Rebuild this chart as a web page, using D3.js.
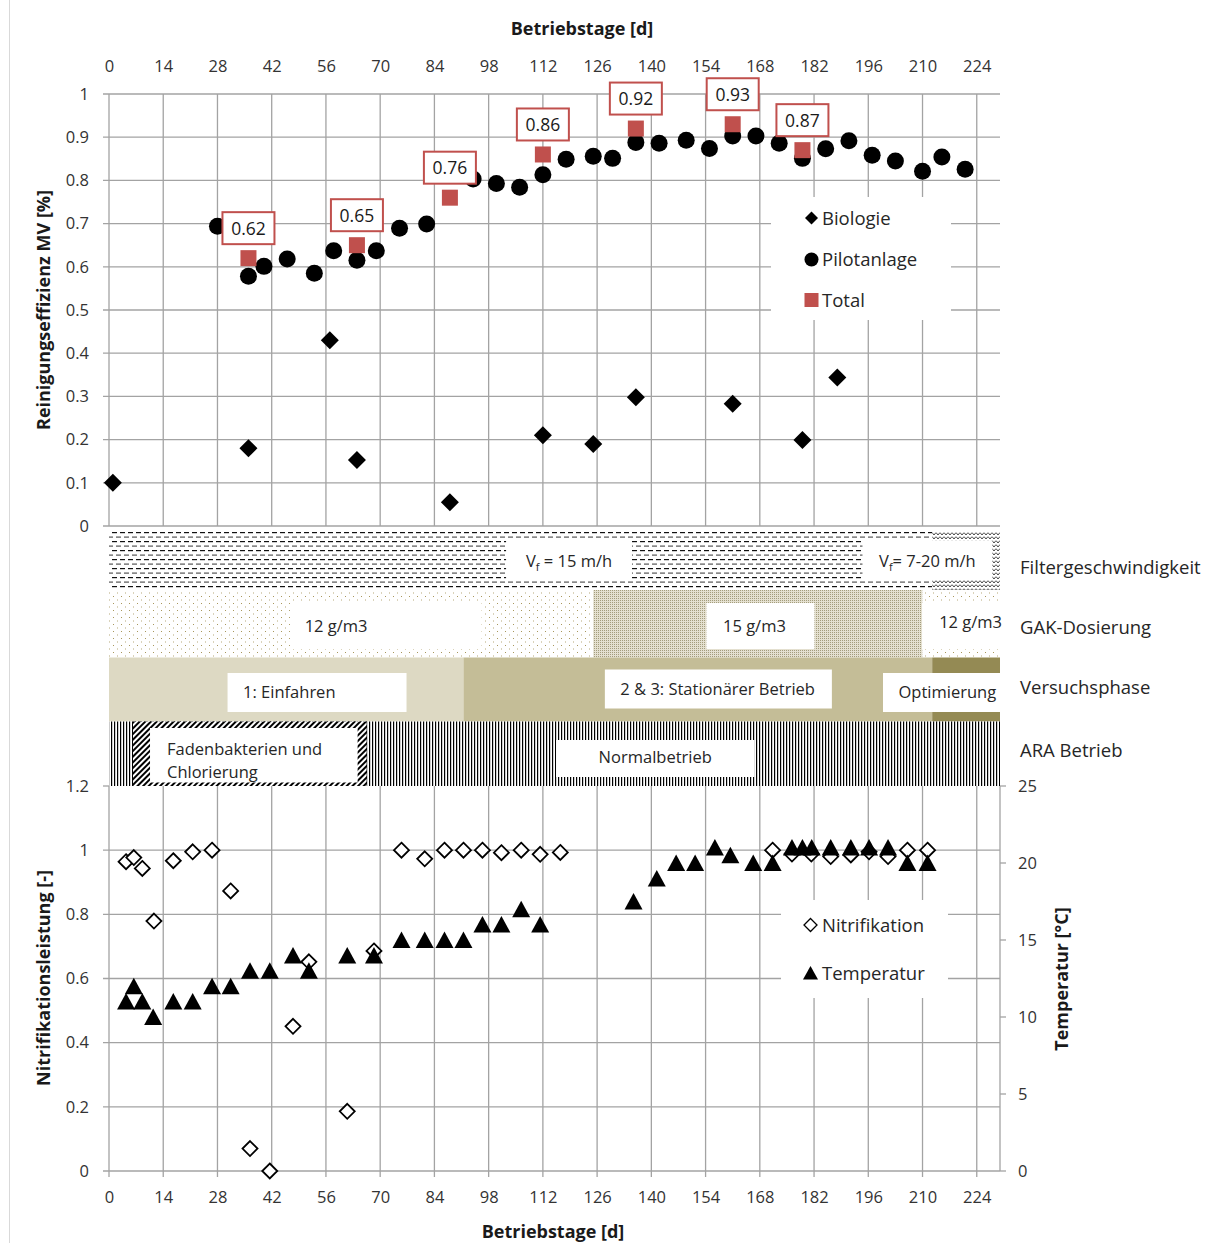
<!DOCTYPE html>
<html><head><meta charset="utf-8">
<script src="https://cdn.jsdelivr.net/npm/d3@7"></script>
<style>body{margin:0;background:#fff}text{font-family:"Open Sans","Noto Sans",sans-serif}</style>
</head><body><svg id="c" width="1213" height="1243"></svg>
<script>
// ---------- DATA ----------
const xTicks = [0,14,28,42,56,70,84,98,112,126,140,154,168,182,196,210,224];
const yTopTicks = [0,0.1,0.2,0.3,0.4,0.5,0.6,0.7,0.8,0.9,1];
const yBotTicks = [0,0.2,0.4,0.6,0.8,1,1.2];
const tempTicks = [0,5,10,15,20,25];

const bioDays = [1,36,57,64,88,112,125,136,161,179,188];
const bioVals = [0.10,0.18,0.43,0.153,0.055,0.21,0.19,0.298,0.283,0.199,0.344];

const pilotDays = [28,36,40,46,53,58,64,69,75,82,94,100,106,112,118,125,130,136,142,149,155,161,167,173,179,185,191,197,203,210,215,221];
const pilotVals = [0.694,0.578,0.601,0.618,0.585,0.637,0.615,0.637,0.689,0.699,0.803,0.793,0.784,0.813,0.849,0.856,0.851,0.888,0.886,0.893,0.874,0.903,0.903,0.886,0.851,0.873,0.892,0.858,0.845,0.821,0.854,0.826];

const totalDays = [36,64,88,112,136,161,179];
const totalVals = [0.62,0.65,0.76,0.86,0.92,0.93,0.87];

const nitriDays = [4.4,6.4,8.6,11.6,16.6,21.6,26.6,31.4,36.4,41.5,47.5,51.6,61.5,68.4,75.5,81.5,86.6,91.5,96.4,101.3,106.4,111.3,116.5,171.3,176.3,181.3,186.3,191.5,196.2,201.1,206.1,211.3];
const nitriVals = [0.964,0.977,0.943,0.779,0.967,0.995,1.0,0.873,0.07,0.0,0.451,0.652,0.186,0.686,1.0,0.973,1.0,1.0,1.0,0.992,1.0,0.987,0.993,1.0,0.988,0.988,0.98,0.985,0.995,0.98,1.0,1.0];

const tempDays = [4.4,6.4,8.6,11.4,16.6,21.6,26.6,31.4,36.4,41.5,47.5,51.6,61.5,68.4,75.5,81.5,86.6,91.5,96.4,101.3,106.4,111.3,135.4,141.4,146.4,151.3,156.4,160.4,166.3,171.3,176.3,179,181.4,186.3,191.5,196.2,201.1,206.1,211.3];
const tempVals = [11,12,11,10,11,11,12,12,13,13,14,13,14,14,15,15,15,15,16,16,17,16,17.5,19,20,20,21,20.5,20,20,21,21,21,21,21,21,21,20,20];

// band segments (days)
const filterSegs = [{from:0,to:212.5,fill:"hdash"},{from:212.5,to:230,fill:"zigzag"}];
const filterLabels = [{from:102.5,to:135,val:" = 15 m/h"},{from:194.5,to:228,val:"= 7-20 m/h"}];
const gakSegs = [{from:0,to:125,fill:"sdots"},{from:125,to:210,fill:"ddots"},{from:210,to:230,fill:"sdots"}];
const gakLabels = [{from:46.7,to:96.2,text:"12 g/m3",tx:50.5},{from:154.2,to:182.1,text:"15 g/m3",tx:158.5},{from:209.9,to:230,text:"12 g/m3",tx:214.3}];
const phaseSegs = [{from:0,to:91.5,fill:"#ddd9c3"},{from:91.5,to:212.5,fill:"#c4bd97"},{from:212.5,to:230,fill:"#948a54"}];
const phaseLabels = [{from:30.6,to:76.8,text:"1: Einfahren",dy:0},{from:128,to:186.6,text:"2 & 3: Stationärer Betrieb",dy:-3.5},{from:199.8,to:230,text:"Optimierung",dy:0}];
const araHatch = {from:6.2,to:66.5};
const araLabel = {from:115.4,to:166.6,text:"Normalbetrieb"};
const bandNames = ["Filtergeschwindigkeit","GAK-Dosierung","Versuchsphase","ARA Betrieb"];

// ---------- SCALES ----------
const x = d3.scaleLinear([0,230],[109,1000]);
const yTop = d3.scaleLinear([0,1],[526,94]);
const yBot = d3.scaleLinear([0,1.2],[1171,786]);
const yTemp = d3.scaleLinear([0,25],[1171,786]);

const FONT = '"Open Sans","Noto Sans",sans-serif';
const gridC = "#a3a3a3", tickC = "#333", red = "#c0504d", txtC = "#262626";
const svg = d3.select("#c");
svg.append("rect").attr("width",1213).attr("height",1243).attr("fill","#fff");
svg.append("line").attr("x1",9.5).attr("x2",9.5).attr("y1",0).attr("y2",1243).attr("stroke","#d9d9d9");

// ---------- PATTERNS ----------
const defs = svg.append("defs");
function pat(id,w,h,tr){const p=defs.append("pattern").attr("id",id).attr("patternUnits","userSpaceOnUse").attr("width",w).attr("height",h);if(tr)p.attr("patternTransform",tr);return p;}
let p = pat("hdash",8,9); p.append("rect").attr("width",8).attr("height",9).attr("fill","#fff");
p.append("rect").attr("x",0).attr("y",1).attr("width",5).attr("height",1.2).attr("fill","#111");
p.append("rect").attr("x",4).attr("y",5.5).attr("width",4).attr("height",1.2).attr("fill","#555");
p.append("rect").attr("x",0).attr("y",5.5).attr("width",1).attr("height",1.2).attr("fill","#555");
p = pat("zigzag",4,4); p.append("rect").attr("width",4).attr("height",4).attr("fill","#fff");
p.append("path").attr("d","M0,0.5L2,3L4,0.5").attr("fill","none").attr("stroke","#333").attr("stroke-width",0.9);
p = pat("sdots",8,7); p.append("rect").attr("width",8).attr("height",7).attr("fill","#fff");
p.append("rect").attr("x",1).attr("y",1).attr("width",1).attr("height",1).attr("fill","#a8975c");
p.append("rect").attr("x",5).attr("y",4.5).attr("width",1).attr("height",1).attr("fill","#b5a878");
p = pat("ddots",2,2); p.append("rect").attr("width",2).attr("height",2).attr("fill","#e4e0d0");
p.append("rect").attr("width",1).attr("height",1).attr("fill","#a39c7c");
p = pat("vlines",3,4); p.append("rect").attr("width",3).attr("height",4).attr("fill","#fff");
p.append("rect").attr("width",1.2).attr("height",4).attr("fill","#000");
p = pat("diag",4,4,"rotate(45)"); p.append("rect").attr("width",4).attr("height",4).attr("fill","#fff");
p.append("rect").attr("width",2).attr("height",4).attr("fill","#000");

// ---------- TOP CHART ----------
const gT = svg.append("g");
gT.selectAll("line.h").data(yTopTicks).join("line").attr("class","h")
  .attr("x1",x(0)-6).attr("x2",x(230)).attr("y1",d=>yTop(d)).attr("y2",d=>yTop(d))
  .attr("stroke",gridC).attr("stroke-width",1.3);
gT.selectAll("line.v").data(xTicks).join("line").attr("class","v")
  .attr("x1",d=>x(d)).attr("x2",d=>x(d)).attr("y1",yTop(1)).attr("y2",yTop(0))
  .attr("stroke",gridC).attr("stroke-width",1.3);

function styleAxis(g){g.select(".domain").remove();g.selectAll("line").remove();
  g.selectAll("text").attr("font-size",16.5).attr("fill",tickC).style("font-family",FONT);}
svg.append("g").attr("transform",`translate(${x(0)},0)`)
  .call(d3.axisLeft(yTop).tickValues(yTopTicks).tickFormat(d=>String(d)).tickSize(0).tickPadding(20)).call(styleAxis);
svg.append("g").attr("transform",`translate(0,${yTop(1)})`)
  .call(d3.axisTop(x).tickValues(xTicks).tickFormat(d=>String(d)).tickSize(0).tickPadding(22)).call(styleAxis);

const diamond = a => `M0,${-a}L${a},0L0,${a}L${-a},0Z`;
const tri = "M0,-8.5L9,8L-9,8Z";

gT.selectAll("path.bio").data(bioDays).join("path").attr("class","bio")
  .attr("d",diamond(9)).attr("transform",(d,i)=>`translate(${x(d)},${yTop(bioVals[i])})`).attr("fill","#000");
gT.selectAll("circle.pil").data(pilotDays).join("circle").attr("class","pil")
  .attr("cx",d=>x(d)).attr("cy",(d,i)=>yTop(pilotVals[i])).attr("r",8.5).attr("fill","#000");
gT.selectAll("rect.tot").data(totalDays).join("rect").attr("class","tot")
  .attr("x",d=>x(d)-8).attr("y",(d,i)=>yTop(totalVals[i])-8).attr("width",16).attr("height",16).attr("fill",red);
const lab = gT.selectAll("g.lab").data(totalDays).join("g").attr("class","lab")
  .attr("transform",(d,i)=>`translate(${x(d)},${yTop(totalVals[i])-14})`);
lab.append("rect").attr("x",-26).attr("y",-32).attr("width",52).attr("height",32).attr("fill","#fff").attr("stroke",red).attr("stroke-width",2);
lab.append("text").attr("y",-9.5).attr("text-anchor","middle").attr("font-size",17.5).attr("fill","#1a1a1a")
  .text((d,i)=>d3.format(".2f")(totalVals[i]));

// top legend
const lg = svg.append("g");
lg.append("rect").attr("x",771).attr("y",197).attr("width",180).attr("height",123).attr("fill","#fff");
const lt = [{n:"Biologie",y:218},{n:"Pilotanlage",y:259.5},{n:"Total",y:300}];
lg.append("path").attr("d",diamond(6.5)).attr("transform",`translate(811.5,${lt[0].y})`).attr("fill","#000");
lg.append("circle").attr("cx",811.5).attr("cy",lt[1].y).attr("r",7).attr("fill","#000");
lg.append("rect").attr("x",804.5).attr("y",lt[2].y-7).attr("width",14).attr("height",14).attr("fill",red);
lg.selectAll("text").data(lt).join("text").attr("x",822).attr("y",d=>d.y+6.5).attr("font-size",18.5).attr("fill",txtC).text(d=>d.n);

// ---------- BOTTOM CHART ----------
const gB = svg.append("g");
gB.selectAll("line.h").data(yBotTicks.filter(d=>d<1.2)).join("line").attr("class","h")
  .attr("x1",x(0)-6).attr("x2",x(230)).attr("y1",d=>yBot(d)).attr("y2",d=>yBot(d))
  .attr("stroke",gridC).attr("stroke-width",1.3);
gB.selectAll("line.v").data(xTicks).join("line").attr("class","v")
  .attr("x1",d=>x(d)).attr("x2",d=>x(d)).attr("y1",yBot(1.2)).attr("y2",yBot(0)+6)
  .attr("stroke",gridC).attr("stroke-width",1.3);
gB.append("line").attr("x1",x(0)-6).attr("x2",x(0)).attr("y1",yBot(1.2)).attr("y2",yBot(1.2)).attr("stroke",gridC).attr("stroke-width",1.3);
gB.append("line").attr("x1",x(230)).attr("x2",x(230)).attr("y1",yTemp(25)).attr("y2",yTemp(0)).attr("stroke",gridC).attr("stroke-width",1.3);
gB.selectAll("line.rt").data(tempTicks).join("line").attr("class","rt")
  .attr("x1",x(230)).attr("x2",x(230)+6).attr("y1",d=>yTemp(d)).attr("y2",d=>yTemp(d)).attr("stroke",gridC).attr("stroke-width",1.3);

svg.append("g").attr("transform",`translate(${x(0)},0)`)
  .call(d3.axisLeft(yBot).tickValues(yBotTicks).tickFormat(d=>String(d)).tickSize(0).tickPadding(20)).call(styleAxis);
svg.append("g").attr("transform",`translate(${x(230)},0)`)
  .call(d3.axisRight(yTemp).tickValues(tempTicks).tickFormat(d=>String(d)).tickSize(0).tickPadding(18)).call(styleAxis);
svg.append("g").attr("transform",`translate(0,${yBot(0)})`)
  .call(d3.axisBottom(x).tickValues(xTicks).tickFormat(d=>String(d)).tickSize(0).tickPadding(20)).call(styleAxis);

gB.selectAll("path.nit").data(nitriDays).join("path").attr("class","nit")
  .attr("d",diamond(7.5)).attr("transform",(d,i)=>`translate(${x(d)},${yBot(nitriVals[i])})`)
  .attr("fill","#fff").attr("stroke","#000").attr("stroke-width",1.8);
gB.selectAll("path.tmp").data(tempDays).join("path").attr("class","tmp")
  .attr("d",tri).attr("transform",(d,i)=>`translate(${x(d)},${yTemp(tempVals[i])})`).attr("fill","#000");

// bottom legend
const lb = svg.append("g");
lb.append("rect").attr("x",781).attr("y",900).attr("width",167).attr("height",98).attr("fill","#fff");
lb.append("path").attr("d",diamond(6.5)).attr("transform","translate(810.5,925)").attr("fill","#fff").attr("stroke","#000").attr("stroke-width",1.3);
lb.append("path").attr("d","M0,-7L7.5,6.5L-7.5,6.5Z").attr("transform","translate(810.5,973)").attr("fill","#000");
lb.selectAll("text").data([{n:"Nitrifikation",y:925},{n:"Temperatur",y:973}]).join("text")
  .attr("x",822).attr("y",d=>d.y+6.5).attr("font-size",18.5).attr("fill",txtC).text(d=>d.n);

// ---------- BANDS ----------
const bY = {f:[531,590],g:[590,657.5],p:[657.5,721.5],a:[721.5,786]};
const bands = svg.append("g");
function segs(data,yr){bands.append("g").selectAll("rect").data(data).join("rect")
  .attr("x",d=>x(d.from)).attr("width",d=>x(d.to)-x(d.from)).attr("y",yr[0]).attr("height",yr[1]-yr[0])
  .attr("fill",d=>d.fill.startsWith("#")?d.fill:`url(#${d.fill})`);}
segs(filterSegs,bY.f); segs(gakSegs,bY.g); segs(phaseSegs,bY.p);
segs([{from:0,to:230,fill:"vlines"}],bY.a);

const BF = 16.5;
filterLabels.forEach(l=>{
  bands.append("rect").attr("x",x(l.from)).attr("y",540.5).attr("width",x(l.to)-x(l.from)).attr("height",38.5).attr("fill","#fff");
  const t=bands.append("text").attr("x",(x(l.from)+x(l.to))/2).attr("y",567).attr("text-anchor","middle").attr("font-size",BF).attr("fill",txtC);
  t.append("tspan").text("V"); t.append("tspan").attr("font-size",11).attr("dy",4).text("f");
  t.append("tspan").attr("dy",-4).text(l.val);
});
gakLabels.forEach(l=>{
  bands.append("rect").attr("x",x(l.from)).attr("y",603).attr("width",x(l.to)-x(l.from)).attr("height",46).attr("fill","#fff");
  bands.append("text").attr("x",x(l.tx)).attr("y",l.from>200?628:632).attr("font-size",BF).attr("fill",txtC).text(l.text);
});
phaseLabels.forEach(l=>{
  bands.append("rect").attr("x",x(l.from)).attr("y",673+l.dy).attr("width",x(l.to)-x(l.from)).attr("height",39).attr("fill","#fff");
  bands.append("text").attr("x",x(l.from)+15.5).attr("y",698+l.dy).attr("font-size",BF).attr("fill",txtC).text(l.text);
});
bands.append("rect").attr("x",x(araHatch.from)).attr("y",bY.a[0]).attr("width",x(araHatch.to)-x(araHatch.from)).attr("height",bY.a[1]-bY.a[0]).attr("fill","url(#diag)");
bands.append("rect").attr("x",x(araHatch.from)+17).attr("y",bY.a[0]+6.5).attr("width",x(araHatch.to)-x(araHatch.from)-26).attr("height",bY.a[1]-bY.a[0]-10).attr("fill","#fff");
bands.append("text").attr("x",x(araHatch.from)+34).attr("y",755).attr("font-size",BF).attr("fill",txtC).text("Fadenbakterien und");
bands.append("text").attr("x",x(araHatch.from)+34).attr("y",778).attr("font-size",BF).attr("fill",txtC).text("Chlorierung");
bands.append("rect").attr("x",x(araLabel.from)).attr("y",740).attr("width",x(araLabel.to)-x(araLabel.from)).attr("height",37).attr("fill","#fff");
bands.append("text").attr("x",(x(araLabel.from)+x(araLabel.to))/2).attr("y",763).attr("text-anchor","middle").attr("font-size",BF).attr("fill",txtC).text(araLabel.text);

const nameY = [574,634,694,757];
svg.selectAll("text.bn").data(bandNames).join("text").attr("class","bn")
  .attr("x",1020).attr("y",(d,i)=>nameY[i]).attr("font-size",18.5).attr("fill",txtC).text(d=>d);

// ---------- AXIS TITLES ----------
const tt = svg.append("g").attr("font-weight","bold").attr("font-size",18).attr("fill","#1a1a1a").attr("text-anchor","middle");
tt.append("text").attr("x",582).attr("y",35).text("Betriebstage [d]");
tt.append("text").attr("x",553).attr("y",1238).text("Betriebstage [d]");
tt.append("text").attr("transform","translate(50,310) rotate(-90)").text("Reinigungseffizienz MV [%]");
tt.append("text").attr("transform","translate(50,978) rotate(-90)").text("Nitrifikationsleistung [-]");
tt.append("text").attr("transform","translate(1068,979) rotate(-90)").text("Temperatur [°C]");
</script></body></html>
